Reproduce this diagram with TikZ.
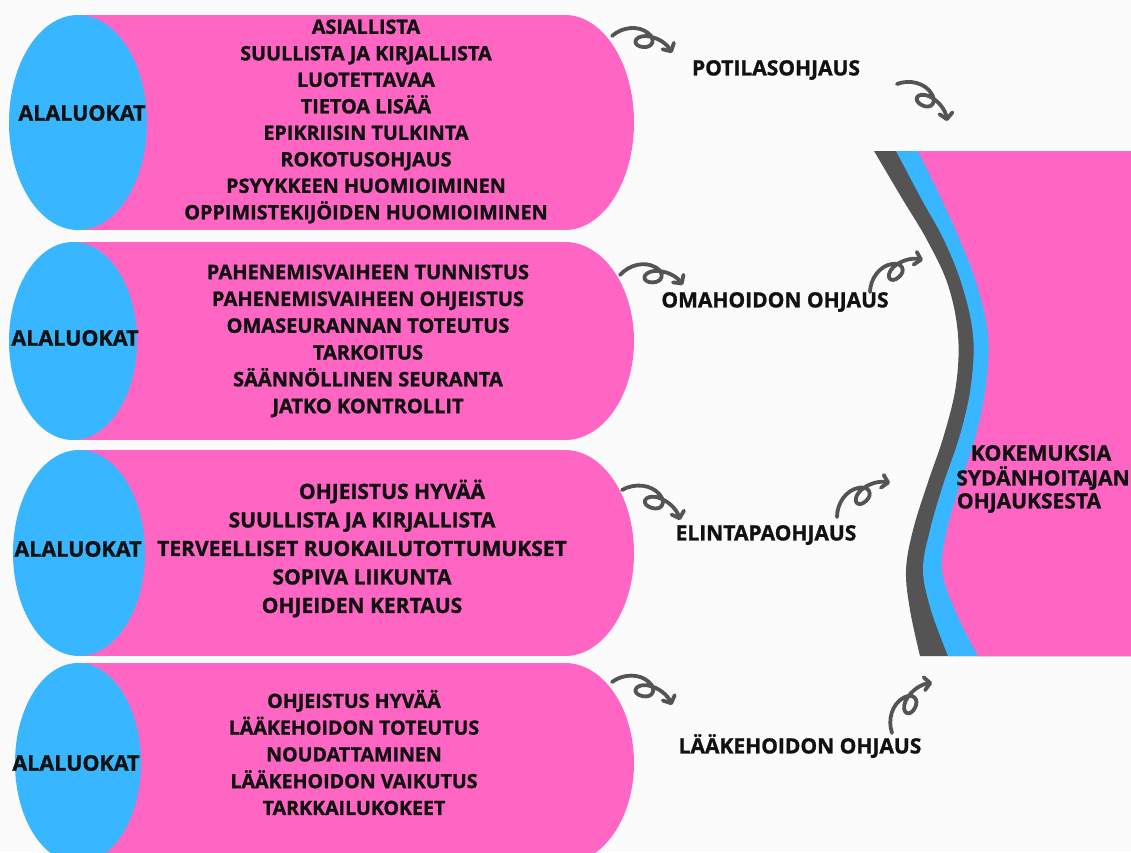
\documentclass[tikz,border=0pt]{standalone}
\usepackage{fontspec}
\setmainfont{Open Sans}[BoldFeatures={FakeBold=1.2}]
\usetikzlibrary{arrows.meta}
\definecolor{pinkc}{HTML}{FF66C4}
\definecolor{bluec}{HTML}{38B6FF}
\definecolor{grayc}{HTML}{545454}
\definecolor{bgc}{HTML}{FBFBFB}
\definecolor{txt}{HTML}{111111}
\tikzset{
  arr/.style={draw=grayc, line width=3.8pt, line cap=round, line join=round,
    -{Straight Barb[length=6pt,width=13pt,line cap=round,line join=round]}},
  curly/.pic={\draw[arr] (0,0) .. controls (10,-9) and (26,-11) .. (36,-3)
     .. controls (44,3) and (41,12) .. (31,11)
     .. controls (20,10) and (21,0) .. (34,0)
     .. controls (46,1) and (55,8) .. (60,17);},
  lbl/.style={text=txt, font=\bfseries\fontsize{19.8}{26.5}\selectfont, align=center, inner sep=0pt},
  side/.style={text=txt, font=\bfseries\fontsize{21}{24}\selectfont, inner sep=0pt},
}
\newcommand{\capsule}[4]{%
  \fill[pinkc] (#3,#1-#2) rectangle (565,#1+#2);
  \fill[pinkc] (565,#1) ellipse [x radius=69, y radius=#2];
  \fill[bluec] (#3,#1) ellipse [x radius=#4, y radius=#2];}
\begin{document}
\begin{tikzpicture}[x=1pt,y=-1pt]
\useasboundingbox (0,0) rectangle (1131,852);
\fill[bgc] (0,0) rectangle (1131,852);
\begin{scope}
\clip (0,0) rectangle (1131,852);
\capsule{122.5}{107.5}{78}{69}
\capsule{341}{99}{73}{64}
\capsule{553}{103}{79}{66}
\capsule{763}{100}{78}{63}
\end{scope}
% right block with wave
\fill[grayc] plot[smooth, tension=0.6] coordinates {(874,151) (903,200) (927,240) (948,285) (958,335) (956,385) (944,435) (927,485) (913,530) (906,570) (910,610) (920,656)} -- (1131,656) -- (1131,151) -- cycle;
\fill[bluec] plot[smooth, tension=0.6] coordinates {(896,151) (922,200) (944,240) (962,285) (973,335) (971,385) (960,435) (943,485) (930,530) (923,570) (931,610) (948,656)} -- (1131,656) -- (1131,151) -- cycle;
\fill[pinkc] plot[smooth, tension=0.6] coordinates {(918,151) (942,200) (960,240) (977,285) (988,335) (986,385) (976,435) (960,485) (947,530) (942,570) (955,610) (978,656)} -- (1131,656) -- (1131,151) -- cycle;
% ALALUOKAT
\node[side, font=\bfseries\fontsize{21.5}{24}\selectfont] (a1) at (82,113) {ALALUOKAT};
\node[side, font=\bfseries\fontsize{21.5}{24}\selectfont] (a2) at (75,338) {ALALUOKAT};
\node[side, font=\bfseries\fontsize{21.5}{24}\selectfont] (a3) at (78,549) {ALALUOKAT};
\node[side, font=\bfseries\fontsize{21.5}{24}\selectfont] (a4) at (76,763) {ALALUOKAT};
% lists
\node[lbl] (l1) at (366,121.5) {ASIALLISTA\\SUULLISTA JA KIRJALLISTA\\LUOTETTAVAA\\TIETOA LISÄÄ\\EPIKRIISIN TULKINTA\\ROKOTUSOHJAUS\\PSYYKKEEN HUOMIOIMINEN\\OPPIMISTEKIJÖIDEN HUOMIOIMINEN};
\node[lbl, font=\bfseries\fontsize{20}{26.8}\selectfont] (l2) at (368,341) {PAHENEMISVAIHEEN TUNNISTUS\\PAHENEMISVAIHEEN OHJEISTUS\\OMASEURANNAN TOTEUTUS\\TARKOITUS\\SÄÄNNÖLLINEN SEURANTA\\JATKO KONTROLLIT};
\node[lbl, font=\bfseries\fontsize{21}{28.5}\selectfont] (l3) at (362,548.5) {\hspace*{60pt}OHJEISTUS HYVÄÄ\\SUULLISTA JA KIRJALLISTA\\TERVEELLISET RUOKAILUTOTTUMUKSET\\SOPIVA LIIKUNTA\\OHJEIDEN KERTAUS};
\node[lbl, font=\bfseries\fontsize{19.6}{26.75}\selectfont] (l4) at (354,752.5) {OHJEISTUS HYVÄÄ\\LÄÄKEHOIDON TOTEUTUS\\NOUDATTAMINEN\\LÄÄKEHOIDON VAIKUTUS\\TARKKAILUKOKEET};
% categories
\node[side] (c1) at (776,70) {POTILASOHJAUS};
\node[side] (c2) at (775,302) {OMAHOIDON OHJAUS};
\node[side] (c3) at (766,535) {ELINTAPAOHJAUS};
\node[side] (c4) at (800,746) {LÄÄKEHOIDON OHJAUS};
% main
\node[side, font=\bfseries\fontsize{21.3}{24}\selectfont] (m1) at (1041,453) {KOKEMUKSIA};
\node[side] (m2) at (1043,478) {SYDÄNHOITA\kern-1.5pt JAN};
\node[side] (m3) at (1029,503) {OHJAUKSESTA};
% curly arrows
\pic[rotate=0, scale=1] at (612,36) {curly};
\pic[rotate=-20.7, scale=1] at (897,84) {curly};
\pic[rotate=6.8, scale=1.02] at (620,275) {curly};
\pic[rotate=46.9, scale=0.99] at (870,292) {curly};
\pic[rotate=-11.6, scale=1.05] at (622,490) {curly};
\pic[rotate=48.5, scale=1.01] at (837,517) {curly};
\pic[rotate=-5.2, scale=1.03] at (612,682) {curly};
\pic[rotate=67.1, scale=1.03] at (892,733) {curly};
\end{tikzpicture}
\end{document}
